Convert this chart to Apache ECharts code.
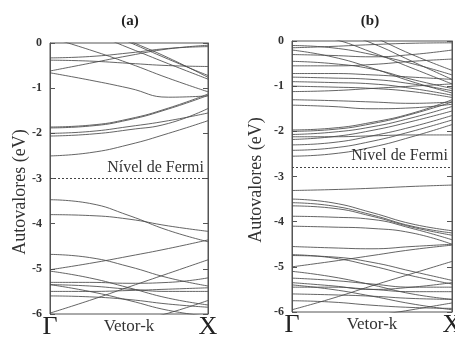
<!DOCTYPE html>
<html>
<head>
<meta charset="utf-8">
<script src="https://cdn.jsdelivr.net/npm/echarts@6/dist/echarts.min.js"></script>
<style>html,body{margin:0;padding:0;background:#fff}#c{width:455px;height:338px}</style>
</head>
<body>
<div id="c"></div>
<script>
// k-path sample points (Γ = 0, X = 1)
const kPoints = [0, 0.25, 0.5, 0.75, 1];
const yTicks = [0, -1, -2, -3, -4, -5, -6];
const panelTitles = ['(a)', '(b)'];
const fermiA = -3.0;
const fermiB = -2.79;

// Panel (a) bands: energies (eV) at kPoints
const bandsA = [
  [-0.33, -0.30, -0.22, -0.12, -0.08],
  [-0.38, -0.40, -0.45, -0.50, -0.52],
  [-0.62, -0.45, -0.28, -0.13, -0.05],
  [-0.66, -0.82, -1.00, -1.20, -1.17],
  [0.12, -0.15, -0.45, -0.78, -1.08],
  [0.45, 0.23, -0.11, -0.46, -0.80],
  [0.70, 0.40, 0.02, -0.36, -0.72],
  [0.72, 0.42, 0.05, -0.33, -0.76],
  [-1.86, -1.82, -1.68, -1.44, -1.13],
  [-1.88, -1.84, -1.70, -1.46, -1.16],
  [-2.00, -1.96, -1.85, -1.72, -1.55],
  [-2.06, -2.02, -1.92, -1.78, -1.45],
  [-2.50, -2.43, -2.25, -2.00, -1.72],
  [-3.47, -3.55, -3.82, -4.15, -4.40],
  [-3.80, -3.82, -3.90, -4.05, -4.17],
  [-5.02, -4.88, -4.72, -4.55, -4.36],
  [-4.68, -4.75, -4.95, -5.20, -5.38],
  [-5.05, -5.20, -5.42, -5.65, -5.80],
  [-5.98, -5.70, -5.40, -5.10, -4.80],
  [-5.30, -5.30, -5.32, -5.30, -5.20],
  [-5.35, -5.38, -5.45, -5.50, -5.50],
  [-5.50, -5.50, -5.48, -5.45, -5.42],
  [-5.60, -5.62, -5.68, -5.78, -5.85],
  [-5.35, -5.50, -5.70, -5.92, -6.05],
  [-6.60, -6.40, -6.20, -5.98, -5.70]
];

// Panel (b) bands: energies (eV) at kPoints
const bandsB = [
  [-0.10, -0.15, -0.30, -0.50, -0.75],
  [-0.15, -0.12, -0.08, -0.05, -0.04],
  [-0.20, -0.35, -0.60, -0.90, -1.15],
  [-0.30, -0.32, -0.35, -0.30, -0.20],
  [-0.45, -0.50, -0.62, -0.85, -1.05],
  [0.20, 0.05, -0.25, -0.60, -0.95],
  [0.40, 0.25, -0.05, -0.45, -0.85],
  [0.60, 0.45, 0.10, -0.30, -0.65],
  [-0.55, -0.55, -0.52, -0.45, -0.40],
  [-0.72, -0.72, -0.75, -0.80, -0.85],
  [-0.80, -0.82, -0.85, -0.95, -1.10],
  [-0.90, -0.92, -0.95, -1.05, -1.20],
  [-1.00, -1.02, -1.05, -1.12, -1.25],
  [-1.12, -1.10, -1.05, -1.00, -0.95],
  [-1.30, -1.32, -1.35, -1.38, -1.35],
  [-1.42, -1.45, -1.50, -1.48, -1.40],
  [-1.97, -1.93, -1.80, -1.60, -1.30],
  [-2.00, -1.96, -1.83, -1.62, -1.35],
  [-2.07, -2.02, -1.90, -1.70, -1.45],
  [-2.18, -2.12, -1.98, -1.78, -1.55],
  [-2.30, -2.25, -2.10, -1.90, -1.65],
  [-2.42, -2.37, -2.22, -2.00, -1.75],
  [-2.55, -2.50, -2.35, -2.12, -1.85],
  [-2.12, -2.12, -2.10, -2.08, -2.08],
  [-3.31, -3.29, -3.26, -3.22, -3.19],
  [-3.50, -3.58, -3.80, -4.05, -4.20],
  [-3.58, -3.65, -3.85, -4.10, -4.25],
  [-3.65, -3.70, -3.88, -4.12, -4.30],
  [-3.88, -3.90, -3.95, -4.15, -4.40],
  [-4.10, -4.12, -4.15, -4.25, -4.50],
  [-5.00, -4.88, -4.75, -4.62, -4.52],
  [-4.73, -4.80, -4.98, -5.20, -5.38],
  [-4.75, -4.78, -4.90, -5.10, -5.30],
  [-5.10, -5.22, -5.40, -5.60, -5.72],
  [-5.95, -5.70, -5.42, -5.15, -4.88],
  [-5.25, -5.30, -5.38, -5.45, -5.45],
  [-5.35, -5.42, -5.50, -5.45, -5.35],
  [-5.45, -5.45, -5.50, -5.55, -5.55],
  [-5.60, -5.62, -5.65, -5.70, -5.72],
  [-5.75, -5.78, -5.85, -5.90, -5.92],
  [-5.40, -5.50, -5.65, -5.82, -5.95],
  [-6.50, -6.30, -6.10, -5.95, -5.80],
  [-4.55, -4.58, -4.60, -4.55, -4.50]
];

const serif = '"Liberation Serif","DejaVu Serif",serif';
const grids = [
  {left: 50, top: 43, width: 158, height: 271},
  {left: 292, top: 41, width: 160, height: 271}
];

const chart = echarts.init(document.getElementById('c'), null, {renderer: 'canvas'});

const xAxes = [], yAxes = [], series = [];
[0, 1].forEach(i => {
  xAxes.push({
    gridIndex: i, type: 'value', min: 0, max: 1, interval: 0.5,
    axisLine: {show: false}, axisTick: {show: false}, splitLine: {show: false},
    axisLabel: {
      formatter: v => v === 0 ? 'Γ' : (v === 1 ? 'X' : ''),
      fontFamily: serif, fontSize: 26, color: '#222', margin: 0
    },
    name: 'Vetor-k', nameLocation: 'middle', nameGap: 4, nameMoveOverlap: false,
    nameTextStyle: {fontFamily: serif, fontSize: 17, color: '#333', verticalAlign: 'top'}
  });
  yAxes.push({
    gridIndex: i, type: 'value', min: -6, max: 0, interval: 1, position: 'left',
    axisLine: {show: true, lineStyle: {color: '#555'}},
    axisTick: {show: true, inside: true, length: 5, lineStyle: {color: '#555'}},
    splitLine: {show: false},
    axisLabel: {fontFamily: serif, fontSize: 12, fontWeight: 'bold', color: '#333', margin: 8,
      formatter: v => yTicks.indexOf(v) >= 0 ? String(v) : ''}
  });
  yAxes.push({
    gridIndex: i, type: 'value', min: -6, max: 0, interval: 1, position: 'right',
    axisLine: {show: true, lineStyle: {color: '#555'}},
    axisTick: {show: true, inside: true, length: 5, lineStyle: {color: '#555'}},
    splitLine: {show: false}, axisLabel: {show: false}
  });
});

function addBands(bands, gi, fermi) {
  bands.forEach((b, j) => {
    series.push({
      type: 'line', xAxisIndex: gi, yAxisIndex: gi * 2, smooth: true, symbol: 'none',
      silent: true, animation: false, clip: true,
      lineStyle: {color: '#4a4a4a', width: 1, opacity: 0.85},
      data: kPoints.map((k, n) => [k, b[n]]),
      markLine: j === 0 ? {
        silent: true, symbol: 'none', animation: false,
        lineStyle: {color: '#444', type: [2, 2], width: 1},
        label: {show: true, position: 'insideEndTop', formatter: 'Nível de Fermi',
          fontFamily: serif, fontSize: 16, color: '#333', distance: [4, 3]},
        data: [{yAxis: fermi}]
      } : undefined
    });
  });
}
addBands(bandsA, 0, fermiA);
addBands(bandsB, 1, fermiB);

chart.setOption({
  backgroundColor: '#fff',
  animation: false,
  grid: grids.map(g => Object.assign({show: true, borderColor: '#555', borderWidth: 1, containLabel: false, outerBoundsMode: 'none'}, g)),
  xAxis: xAxes,
  yAxis: yAxes,
  series: series,
  graphic: [
    {type: 'text', x: 130, y: 21, style: {text: panelTitles[0], fontFamily: serif, fontSize: 15, fontWeight: 'bold', fill: '#222', align: 'center', verticalAlign: 'middle'}},
    {type: 'text', x: 370, y: 21, style: {text: panelTitles[1], fontFamily: serif, fontSize: 15, fontWeight: 'bold', fill: '#222', align: 'center', verticalAlign: 'middle'}},
    {type: 'text', x: 20, y: 192, rotation: Math.PI / 2, style: {text: 'Autovalores (eV)', fontFamily: serif, fontSize: 18, fill: '#333', align: 'center', verticalAlign: 'middle'}},
    {type: 'text', x: 256, y: 180, rotation: Math.PI / 2, style: {text: 'Autovalores (eV)', fontFamily: serif, fontSize: 18, fill: '#333', align: 'center', verticalAlign: 'middle'}}
  ]
});
</script>
</body>
</html>
